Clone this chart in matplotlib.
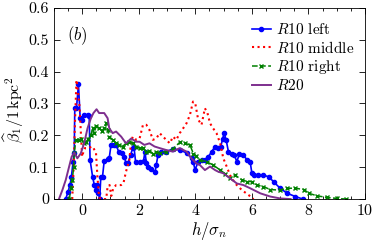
import numpy as np
import matplotlib
matplotlib.use("Agg")
import matplotlib.pyplot as plt
from matplotlib.ticker import MultipleLocator

plt.rcParams["font.family"] = "serif"
plt.rcParams["font.serif"] = ["cmr10", "DejaVu Serif"]
plt.rcParams["mathtext.fontset"] = "cm"
plt.rcParams["axes.formatter.use_mathtext"] = True
plt.rcParams["axes.unicode_minus"] = False

# R10 left
left_h = [-0.58, -0.5, -0.43, -0.38, -0.32, -0.28, -0.26, -0.2, -0.13, -0.07, 0.0, 0.07, 0.19,
          0.25, 0.28, 0.37, 0.43, 0.49, 0.53, 0.57, 0.62, 0.66, 0.72, 0.78, 0.9, 0.96, 1.02,
          1.14, 1.2, 1.29, 1.4, 1.49, 1.55, 1.62, 1.71, 1.79, 1.83, 1.89, 2.03, 2.17, 2.22,
          2.27, 2.32, 2.44, 2.58, 2.62, 2.68, 2.8, 2.97, 3.2, 3.45, 3.69, 3.87, 3.93, 3.99,
          4.1, 4.22, 4.34, 4.46, 4.58, 4.7, 4.81, 4.9, 4.97, 5.02, 5.09, 5.17, 5.29, 5.38,
          5.47, 5.56, 5.7, 5.83, 5.94, 6.0, 6.06, 6.2, 6.41, 6.6, 6.77, 7.0, 7.25, 7.54, 7.8]
left_b = [0.0, 0.023, 0.044, 0.07, 0.117, 0.145, 0.286, 0.286, 0.36, 0.255, 0.248, 0.264, 0.265,
          0.26, 0.123, 0.07, 0.044, 0.028, 0.044, 0.02, 0.0, 0.07, 0.07, 0.12, 0.125, 0.13, 0.17,
          0.17, 0.17, 0.149, 0.145, 0.133, 0.113, 0.113, 0.138, 0.16, 0.165, 0.117, 0.117, 0.12, 0.149,
          0.113, 0.102, 0.094, 0.086, 0.107, 0.138, 0.149, 0.149, 0.157, 0.154, 0.145, 0.128, 0.117, 0.091,
          0.117, 0.123, 0.123, 0.133, 0.149, 0.165, 0.16, 0.165, 0.19, 0.207, 0.186, 0.149, 0.143, 0.138,
          0.117, 0.143, 0.138, 0.123, 0.117, 0.081, 0.075, 0.075, 0.075, 0.07, 0.054, 0.034, 0.018, 0.008, 0.0]

# R10 middle
mid_h = [-0.35, -0.3, -0.25, -0.2, -0.15, -0.1, -0.05, 0.0, 0.05, 0.1, 0.2, 0.37, 0.49, 0.54,
         0.6, 0.7, 0.85, 0.9, 0.97, 1.03, 1.1, 1.2, 1.38, 1.46, 1.55, 1.67, 1.73, 1.79, 1.91,
         2.03, 2.15, 2.27, 2.38, 2.5, 2.62, 2.74, 2.86, 2.97, 3.1, 3.21, 3.33, 3.45, 3.57, 3.69,
         3.81, 3.92, 4.0, 4.1, 4.22, 4.34, 4.43, 4.52, 4.63, 4.75, 4.88, 4.99, 5.11, 5.23, 5.41,
         5.65, 5.88, 6.06]
mid_b = [0.0, 0.1, 0.25, 0.374, 0.34, 0.3, 0.217, 0.133, 0.15, 0.16, 0.16, 0.165, 0.145, 0.07,
         0.005, 0.0, 0.0, 0.04, 0.044, 0.01, 0.034, 0.044, 0.044, 0.05, 0.086, 0.123, 0.18, 0.196, 0.186,
         0.19, 0.233, 0.233, 0.217, 0.186, 0.19, 0.207, 0.196, 0.186, 0.175, 0.196, 0.186, 0.207, 0.222, 0.238,
         0.264, 0.306, 0.3, 0.25, 0.233, 0.285, 0.27, 0.238, 0.222, 0.207, 0.175, 0.128, 0.102, 0.075, 0.049,
         0.028, 0.013, 0.0]

# R10 right
right_h = [-0.45, -0.4, -0.35, -0.3, -0.28, -0.22, -0.1, -0.05, 0.07, 0.15, 0.22, 0.31, 0.37, 0.43,
           0.49, 0.6, 0.7, 0.78, 0.84, 0.9, 0.96, 1.08, 1.2, 1.32, 1.43, 1.55, 1.67, 1.79, 1.91,
           2.03, 2.15, 2.27, 2.38, 2.5, 2.62, 2.74, 2.97, 3.2, 3.45, 3.63, 3.81, 3.93, 4.04, 4.16,
           4.4, 4.63, 4.88, 5.05, 5.23, 5.41, 5.65, 5.83, 6.0, 6.18, 6.41, 6.65, 7.0, 7.25, 7.54,
           7.84, 8.02, 8.31, 8.67, 9.02, 9.32]
right_b = [0.0, 0.034, 0.06, 0.1, 0.145, 0.186, 0.186, 0.19, 0.175, 0.18, 0.19, 0.2, 0.222, 0.207,
           0.228, 0.222, 0.215, 0.222, 0.238, 0.217, 0.196, 0.186, 0.175, 0.17, 0.165, 0.175, 0.18, 0.175, 0.165,
           0.16, 0.16, 0.149, 0.152, 0.143, 0.148, 0.145, 0.149, 0.157, 0.178, 0.175, 0.17, 0.143, 0.135, 0.123,
           0.117, 0.107, 0.091, 0.08, 0.065, 0.075, 0.06, 0.055, 0.055, 0.044, 0.039, 0.03, 0.028, 0.034, 0.034,
           0.03, 0.018, 0.01, 0.005, 0.002, 0.0]

# R20
r20_h = [-0.82, -0.7, -0.58, -0.46, -0.37, -0.28, -0.17, -0.05, 0.07, 0.19, 0.31, 0.4, 0.51, 0.6,
         0.78, 0.9, 0.96, 1.08, 1.2, 1.38, 1.55, 1.73, 1.91, 2.03, 2.2, 2.38, 2.56, 2.74, 2.97,
         3.2, 3.45, 3.69, 3.86, 4.04, 4.16, 4.34, 4.52, 4.7, 4.81, 4.99, 5.23, 5.47, 5.7, 5.94,
         6.3, 6.65, 7.0, 7.37]
r20_b = [0.0, 0.028, 0.06, 0.102, 0.133, 0.146, 0.128, 0.143, 0.175, 0.222, 0.254, 0.27, 0.282, 0.27,
         0.27, 0.254, 0.222, 0.207, 0.212, 0.196, 0.175, 0.19, 0.18, 0.18, 0.17, 0.175, 0.165, 0.16, 0.154,
         0.149, 0.16, 0.149, 0.128, 0.112, 0.107, 0.091, 0.102, 0.091, 0.086, 0.081, 0.065, 0.049, 0.044, 0.034,
         0.018, 0.008, 0.002, 0.0]

x_ticks = [0, 2, 4, 6, 8, 10]
y_ticks = [0, 0.1, 0.2, 0.3, 0.4, 0.5, 0.6]
y_tick_labels = ["0", "0.1", "0.2", "0.3", "0.4", "0.5", "0.6"]


def main():
    fig = plt.figure(figsize=(3.74, 2.47), dpi=100)
    ax = fig.add_axes([0.144, 0.194, 0.832, 0.774])

    ax.plot(left_h, left_b, color="#0000ff", lw=1.2, marker="o", ms=3.0, label=r"$R$10 left")
    ax.plot(mid_h, mid_b, color="#ff0000", lw=1.5, ls=":", label=r"$R$10 middle")
    ax.plot(right_h, right_b, color="#008000", lw=1.1, ls="--", marker="x", ms=2.5, mew=1.0,
            label=r"$R$10 right")
    ax.plot(r20_h, r20_b, color="#7e2f8e", lw=1.4, label=r"$R$20")

    ax.set_xlim(-1, 10)
    ax.set_ylim(0, 0.6)
    ax.set_xticks(x_ticks)
    ax.set_xticklabels([str(t) for t in x_ticks])
    ax.set_yticks(y_ticks)
    ax.set_yticklabels(y_tick_labels)
    ax.xaxis.set_minor_locator(MultipleLocator(0.5))
    ax.tick_params(which="both", direction="in", top=True, right=True, labelsize=11.5, width=0.6)
    ax.tick_params(which="major", length=4)
    ax.tick_params(which="minor", length=2.5)
    for s in ax.spines.values():
        s.set_linewidth(0.6)

    ax.set_xlabel(r"$h/\sigma_n$", fontsize=12, labelpad=2)
    ax.set_ylabel(r"$\widehat{\beta}_1/1\,\mathrm{kpc}^2$", fontsize=11.5)
    ax.yaxis.set_label_coords(-0.088, 0.47)
    ax.text(-0.55, 0.5, r"$(b)$", fontsize=12)

    ax.legend(loc="upper right", frameon=False, fontsize=11, handlelength=1.3, handletextpad=0.3,
              labelspacing=0.15, borderaxespad=0.3, bbox_to_anchor=(1.0, 0.98))

    plt.savefig("out.png", dpi=100)
    plt.close()


if __name__ == "__main__":
    main()
